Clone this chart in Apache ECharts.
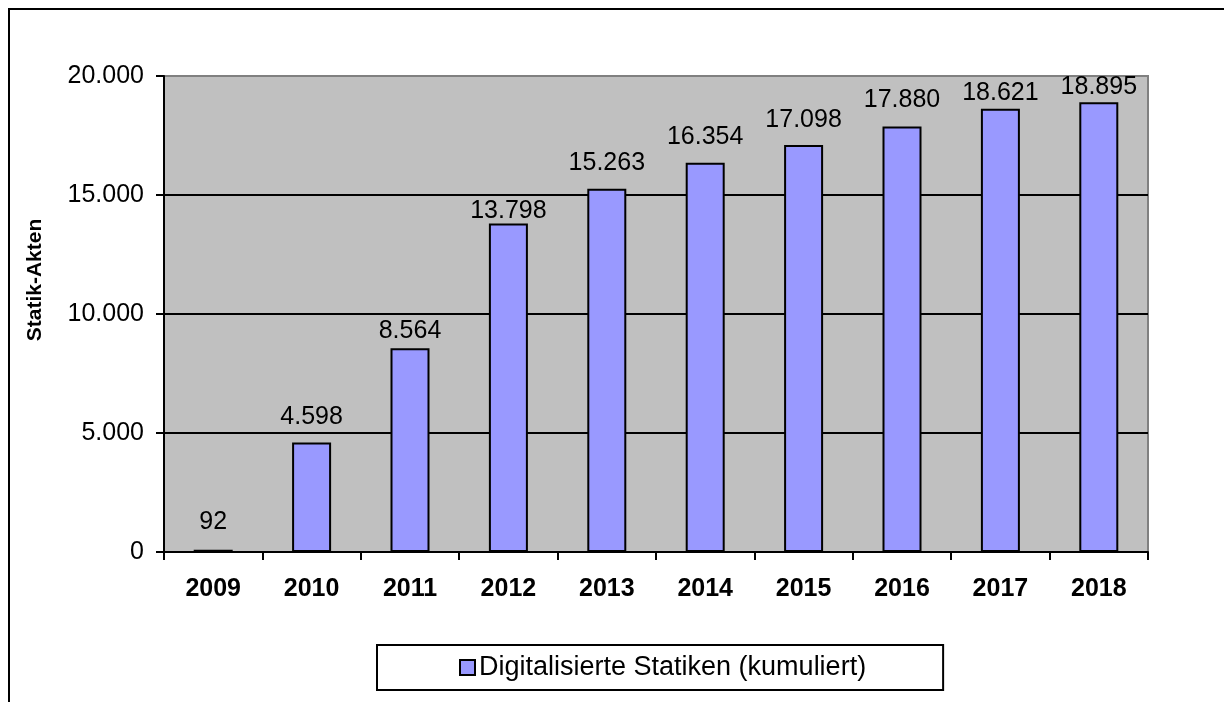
<!DOCTYPE html>
<html>
<head>
<meta charset="utf-8">
<title>Digitalisierte Statiken</title>
<script src="https://cdn.jsdelivr.net/npm/echarts@6/dist/echarts.min.js"></script>
<style>
  html, body { margin: 0; padding: 0; background: #fff; }
  #chart { width: 1224px; height: 702px; }
</style>
</head>
<body>
<div id="chart"></div>
<script>
// Jahre und kumulierte Anzahl digitalisierter Statik-Akten
const years = ['2009', '2010', '2011', '2012', '2013', '2014', '2015', '2016', '2017', '2018'];
const statiken = [92, 4598, 8564, 13798, 15263, 16354, 17098, 17880, 18621, 18895];
const seriesName = 'Digitalisierte Statiken (kumuliert)';
const yAxisTitle = 'Statik-Akten';
const yMax = 20000;
const yStep = 5000;

// Abstand der Wertebeschriftung über dem Balken (px)
const labelGaps = [15, 13, 5, 0, 13, 13, 12, 14, 3, 3];

const FONT = '"Liberation Sans", Arial, sans-serif';

// Tausendertrennzeichen nach deutscher Schreibweise
function fmtDe(v) {
  return String(Math.round(v)).replace(/\B(?=(\d{3})+(?!\d))/g, '.');
}

const chart = echarts.init(document.getElementById('chart'), null, { renderer: 'canvas' });

chart.setOption({
  backgroundColor: '#ffffff',
  animation: false,
  textStyle: { fontFamily: FONT },
  grid: {
    left: 164, right: 76, top: 76, bottom: 150,
    show: true,
    backgroundColor: '#C0C0C0',
    borderColor: '#808080',
    borderWidth: 2
  },
  legend: {
    data: [seriesName],
    left: 377,
    top: 645,
    orient: 'horizontal',
    padding: [9, 77, 9, 82],
    borderColor: '#000',
    borderWidth: 2,
    borderRadius: 0,
    backgroundColor: '#fff',
    itemWidth: 15,
    itemHeight: 15,
    icon: 'rect',
    itemStyle: { borderColor: '#000', borderWidth: 2 },
    textStyle: { fontFamily: FONT, fontSize: 27, color: '#000', padding: [0, 0, 0, -1] }
  },
  xAxis: {
    type: 'category',
    data: years,
    boundaryGap: true,
    axisLine: { show: true, lineStyle: { color: '#000', width: 2 } },
    axisTick: { show: true, length: 8, inside: false, alignWithLabel: false, lineStyle: { color: '#000', width: 2 } },
    axisLabel: { fontFamily: FONT, fontSize: 25, fontWeight: 'bold', color: '#000', margin: 25 },
    splitLine: { show: false }
  },
  yAxis: {
    type: 'value',
    min: 0,
    max: yMax,
    interval: yStep,
    axisLine: { show: true, lineStyle: { color: '#000', width: 2 } },
    axisTick: { show: true, length: 8, inside: false, lineStyle: { color: '#000', width: 2 } },
    axisLabel: { fontFamily: FONT, fontSize: 25, color: '#000', margin: 20, formatter: fmtDe },
    splitLine: {
      show: true,
      lineStyle: { color: ['#000', '#000', '#000', '#000', '#808080'], width: 2 }
    }
  },
  series: [{
    name: seriesName,
    type: 'bar',
    barWidth: 39,
    itemStyle: { color: '#9999FF', borderColor: '#000', borderWidth: 2 },
    data: statiken.map((v, i) => ({
      value: v,
      label: { distance: labelGaps[i] }
    })),
    label: {
      show: true,
      position: 'top',
      fontFamily: FONT,
      fontSize: 25,
      color: '#000',
      formatter: p => fmtDe(p.value)
    }
  }],
  graphic: [
    {
      // Außenrahmen des Diagrammbereichs
      type: 'rect',
      x: 9, y: 9,
      shape: { x: 0, y: 0, width: 1400, height: 900 },
      style: { fill: 'none', stroke: '#000', lineWidth: 2 },
      silent: true,
      z: 100
    },
    {
      type: 'text',
      x: 35, y: 280,
      rotation: Math.PI / 2,
      style: {
        text: yAxisTitle,
        fontFamily: FONT,
        fontSize: 21,
        fontWeight: 'bold',
        fill: '#000',
        textAlign: 'center',
        textVerticalAlign: 'middle'
      },
      z: 100
    }
  ]
});
</script>
</body>
</html>
